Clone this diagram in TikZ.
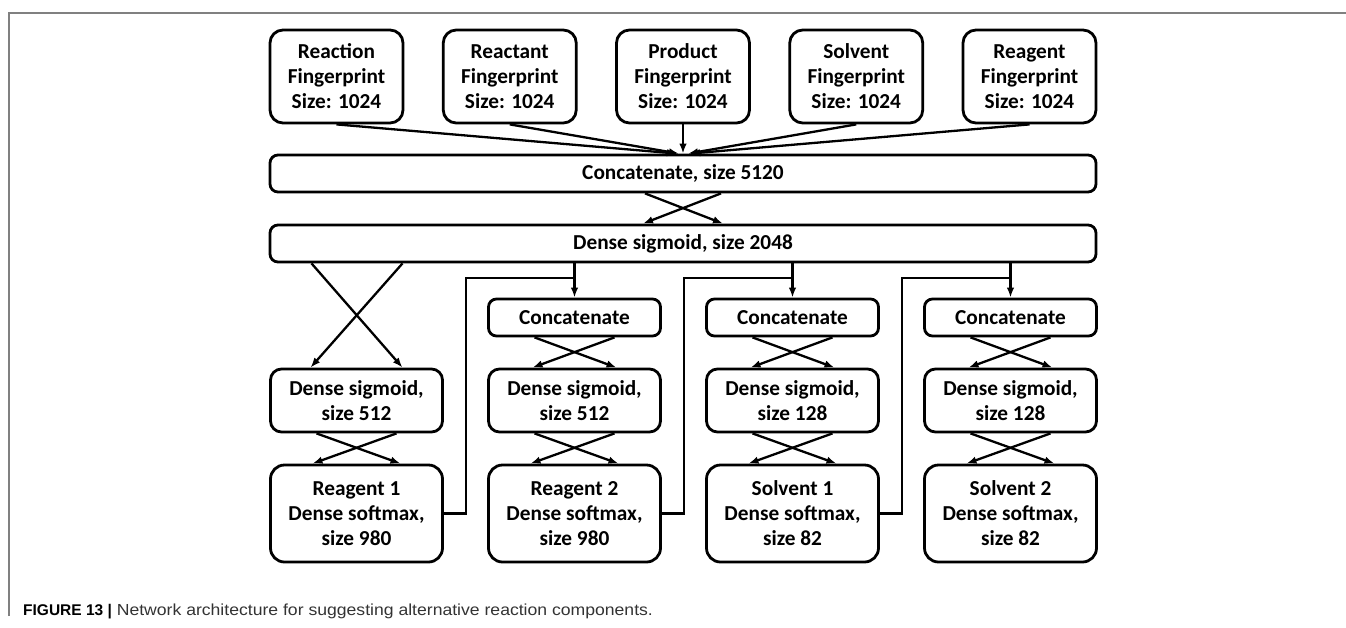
\documentclass[tikz,border=0pt]{standalone}
\usepackage{fontspec}
\setmainfont{Carlito}
\newfontfamily\capfont{Liberation Sans}
\newfontfamily\capwide{Liberation Sans}[FakeStretch=1.1]
\usetikzlibrary{arrows.meta,calc}

\begin{document}
\begin{tikzpicture}[x=1pt,y=-1pt,
  blk/.style={draw, line width=2.8pt, rounded corners=13pt, align=center,
    font=\bfseries\fontsize{21.3}{25}\selectfont, inner sep=0pt},
  inbox/.style={blk, minimum width=133pt, minimum height=93pt},
  bar/.style={blk, rounded corners=8pt, minimum width=826pt, minimum height=37pt},
  catbox/.style={blk, rounded corners=8pt, minimum width=172pt, minimum height=37pt},
  hidbox/.style={blk, rounded corners=11pt, minimum width=172pt, minimum height=63pt},
  outbox/.style={blk, rounded corners=14pt, minimum width=172pt, minimum height=97pt},
  link/.style={line width=2.3pt, -{Latex[length=10pt,width=7.5pt]}},
  wire/.style={line width=2.3pt},
  frame/.style={draw=black!50, line width=1.4pt},
]
\useasboundingbox (0,0) rectangle (1346,627);

% figure frame
\draw[frame] (9,616) -- (9,13) -- (1346,13);

% input fingerprints
\node[inbox] (rxn) at (336.5,76.5) {Reaction\\Fingerprint\\Size: 1024};
\node[inbox] (rct) at (509.75,76.5) {Reactant\\Fingerprint\\Size: 1024};
\node[inbox] (prd) at (683,76.5) {Product\\Fingerprint\\Size: 1024};
\node[inbox] (slv) at (856.25,76.5) {Solvent\\Fingerprint\\Size: 1024};
\node[inbox] (rgt) at (1029.5,76.5) {Reagent\\Fingerprint\\Size: 1024};

% shared layers
\node[bar] (concat) at (683,173.5) {Concatenate, size 5120};
\node[bar] (dense) at (683,243.5) {Dense sigmoid, size 2048};

% output columns
\node[hidbox] (hid1) at (356.5,400.5) {Dense sigmoid,\\size 512};
\node[outbox] (out1) at (356.5,513.5) {Reagent 1\\Dense softmax,\\size 980};

\node[catbox] (cat2) at (574.5,317.5) {Concatenate};
\node[hidbox] (hid2) at (574.5,400.5) {Dense sigmoid,\\size 512};
\node[outbox] (out2) at (574.5,513.5) {Reagent 2\\Dense softmax,\\size 980};

\node[catbox] (cat3) at (792.5,317.5) {Concatenate};
\node[hidbox] (hid3) at (792.5,400.5) {Dense sigmoid,\\size 128};
\node[outbox] (out3) at (792.5,513.5) {Solvent 1\\Dense softmax,\\size 82};

\node[catbox] (cat4) at (1010.5,317.5) {Concatenate};
\node[hidbox] (hid4) at (1010.5,400.5) {Dense sigmoid,\\size 128};
\node[outbox] (out4) at (1010.5,513.5) {Solvent 2\\Dense softmax,\\size 82};

% fingerprints into the first concatenation
\draw[link] (rxn.south) -- ($(concat.north)+(-6,0)$);
\draw[link] (rct.south) -- ($(concat.north)+(-4,0)$);
\draw[link] (prd.south) -- (concat.north);
\draw[link] (slv.south) -- ($(concat.north)+(5,0)$);
\draw[link] (rgt.south) -- ($(concat.north)+(7,0)$);

% fully connected crossings
\draw[link] ($(concat.south)+(-38,0)$) -- ($(dense.north)+(40,0)$);
\draw[link] ($(concat.south)+(38,0)$) -- ($(dense.north)+(-40,0)$);

\draw[link] ($(dense.south -| hid1.north)+(-45,0)$) -- ($(hid1.north)+(46,0)$);
\draw[link] ($(dense.south -| hid1.north)+(46,0)$) -- ($(hid1.north)+(-46,0)$);

\foreach \c in {2,3,4}{
  \draw[link] ($(cat\c.south)+(-40,0)$) -- ($(hid\c.north)+(42,0)$);
  \draw[link] ($(cat\c.south)+(40,0)$) -- ($(hid\c.north)+(-42,0)$);
}
\foreach \c in {1,2,3,4}{
  \draw[link] ($(hid\c.south)+(-40,0)$) -- ($(out\c.north)+(44,0)$);
  \draw[link] ($(hid\c.south)+(40,0)$) -- ($(out\c.north)+(-44,0)$);
}

% shared features into each later concatenation
\coordinate (j2) at (574.5,278);
\coordinate (j3) at (792.5,278);
\coordinate (j4) at (1010.5,278);
\draw[link] (dense.south -| cat2.north) -- (cat2.north);
\draw[link] (dense.south -| cat3.north) -- (cat3.north);
\draw[link] (dense.south -| cat4.north) -- (cat4.north);

% previous prediction fed forward
\draw[wire] (out1.east) -- ++(22,0) |- (j2);
\draw[wire] (out2.east) -- ++(22,0) |- (j3);
\draw[wire] (out3.east) -- ++(22,0) |- (j4);

% caption
\node[anchor=base west, inner sep=0pt, text=black!80,
  font=\capwide\fontsize{16}{18}\selectfont] (caption) at (23,615)
  {{\capfont\fontsize{15.5}{18}\selectfont\bfseries\color{black}FIGURE 13 |} Network architecture for suggesting alternative reaction components.};
\end{tikzpicture}
\end{document}
